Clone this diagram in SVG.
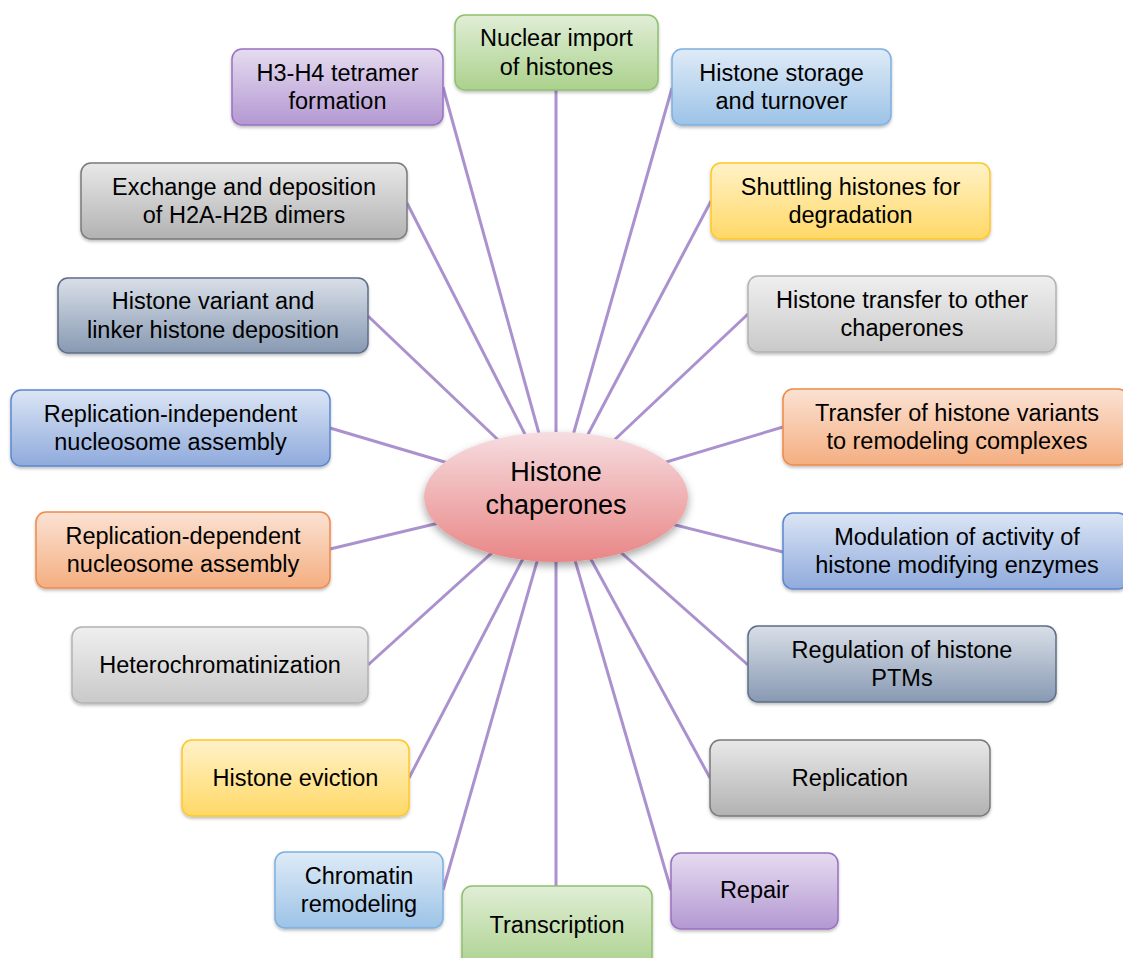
<svg xmlns="http://www.w3.org/2000/svg" width="1123" height="958" viewBox="0 0 1123 958">
<style>
.t{font-family:"Liberation Sans",Arial,sans-serif;font-size:23.5px;fill:#000;text-anchor:middle}
.c{font-family:"Liberation Sans",Arial,sans-serif;font-size:27px;fill:#000;text-anchor:middle}
.ln{stroke:#ab92cf;stroke-width:3;fill:none}
.b{stroke-width:1.5;filter:url(#sh)}
.purple{fill:url(#gPurple);stroke:#9a70c0}
.green{fill:url(#gGreen);stroke:#8fc06e}
.lblue{fill:url(#gLBlue);stroke:#7eb0de}
.yellow{fill:url(#gYellow);stroke:#ffc726}
.dgray{fill:url(#gDGray);stroke:#7a7a7a}
.lgray{fill:url(#gLGray);stroke:#b3b3b3}
.slate{fill:url(#gSlate);stroke:#5d6d87}
.blue{fill:url(#gBlue);stroke:#5b86cf}
.orange{fill:url(#gOrange);stroke:#f0894a}
</style>
<defs>
<filter id="sh" x="-10%" y="-10%" width="120%" height="130%"><feDropShadow dx="0" dy="2" stdDeviation="1.5" flood-color="#000" flood-opacity="0.25"/></filter>
<filter id="esh" x="-20%" y="-20%" width="140%" height="150%"><feDropShadow dx="0" dy="4" stdDeviation="4" flood-color="#000" flood-opacity="0.35"/></filter>
<linearGradient id="gPurple" x1="0" y1="0" x2="0" y2="1"><stop offset="0" stop-color="#e6dcf0"/><stop offset="1" stop-color="#b398d2"/></linearGradient>
<linearGradient id="gGreen" x1="0" y1="0" x2="0" y2="1"><stop offset="0" stop-color="#e0eed6"/><stop offset="1" stop-color="#abd18d"/></linearGradient>
<linearGradient id="gLBlue" x1="0" y1="0" x2="0" y2="1"><stop offset="0" stop-color="#dfebf7"/><stop offset="1" stop-color="#9cc3e7"/></linearGradient>
<linearGradient id="gYellow" x1="0" y1="0" x2="0" y2="1"><stop offset="0" stop-color="#fff2c8"/><stop offset="1" stop-color="#ffd866"/></linearGradient>
<linearGradient id="gDGray" x1="0" y1="0" x2="0" y2="1"><stop offset="0" stop-color="#e8e8e8"/><stop offset="1" stop-color="#b2b2b2"/></linearGradient>
<linearGradient id="gLGray" x1="0" y1="0" x2="0" y2="1"><stop offset="0" stop-color="#efefef"/><stop offset="1" stop-color="#c9c9c9"/></linearGradient>
<linearGradient id="gSlate" x1="0" y1="0" x2="0" y2="1"><stop offset="0" stop-color="#d9dfe8"/><stop offset="1" stop-color="#8799b2"/></linearGradient>
<linearGradient id="gBlue" x1="0" y1="0" x2="0" y2="1"><stop offset="0" stop-color="#dbe5f5"/><stop offset="1" stop-color="#8faadc"/></linearGradient>
<linearGradient id="gOrange" x1="0" y1="0" x2="0" y2="1"><stop offset="0" stop-color="#fbe2d3"/><stop offset="1" stop-color="#f4ae80"/></linearGradient>
<linearGradient id="gPink" x1="0" y1="0" x2="0" y2="1"><stop offset="0" stop-color="#f6dde0"/><stop offset="1" stop-color="#e98686"/></linearGradient>
</defs>
<rect width="1123" height="958" fill="#fff"/>
<g id="connectors">
<line class="ln" x1="443" y1="87" x2="556" y2="495"/>
<line class="ln" x1="556" y1="90" x2="556" y2="495"/>
<line class="ln" x1="672" y1="88" x2="556" y2="495"/>
<line class="ln" x1="407" y1="203" x2="556" y2="495"/>
<line class="ln" x1="368" y1="316" x2="556" y2="495"/>
<line class="ln" x1="330" y1="428" x2="556" y2="495"/>
<line class="ln" x1="330" y1="549" x2="556" y2="495"/>
<line class="ln" x1="368" y1="665" x2="556" y2="495"/>
<line class="ln" x1="409" y1="778" x2="556" y2="495"/>
<line class="ln" x1="443" y1="890" x2="556" y2="495"/>
<line class="ln" x1="556" y1="886" x2="556" y2="495"/>
<line class="ln" x1="671" y1="890" x2="556" y2="495"/>
<line class="ln" x1="710" y1="778" x2="556" y2="495"/>
<line class="ln" x1="748" y1="665" x2="556" y2="495"/>
<line class="ln" x1="783" y1="552" x2="556" y2="495"/>
<line class="ln" x1="783" y1="427" x2="556" y2="495"/>
<line class="ln" x1="748" y1="314" x2="556" y2="495"/>
<line class="ln" x1="711" y1="201" x2="556" y2="495"/>
</g>
<g id="center">
<ellipse cx="556" cy="497" rx="132" ry="65" fill="url(#gPink)" filter="url(#esh)"/>
<text class="c" x="556" y="481">Histone</text>
<text class="c" x="556" y="514">chaperones</text>
</g>
<g id="n-h3h4"><rect class="b purple" x="232" y="49" width="211" height="76" rx="10"/><text class="t" x="337.5" y="80.5">H3-H4 tetramer</text><text class="t" x="337.5" y="109">formation</text></g>
<g id="n-import"><rect class="b green" x="455" y="15" width="203" height="75" rx="10"/><text class="t" x="556.5" y="46">Nuclear import</text><text class="t" x="556.5" y="74.5">of histones</text></g>
<g id="n-storage"><rect class="b lblue" x="672" y="49" width="219" height="76" rx="10"/><text class="t" x="781.5" y="80.5">Histone storage</text><text class="t" x="781.5" y="109">and turnover</text></g>
<g id="n-exchange"><rect class="b dgray" x="81" y="163" width="326" height="76" rx="10"/><text class="t" x="244" y="194.5">Exchange and deposition</text><text class="t" x="244" y="223">of H2A-H2B dimers</text></g>
<g id="n-variant"><rect class="b slate" x="58" y="278" width="310" height="75" rx="10"/><text class="t" x="213" y="309">Histone variant and</text><text class="t" x="213" y="337.5">linker histone deposition</text></g>
<g id="n-repind"><rect class="b blue" x="11" y="390" width="319" height="76" rx="10"/><text class="t" x="170.5" y="421.5">Replication-independent</text><text class="t" x="170.5" y="450">nucleosome assembly</text></g>
<g id="n-repdep"><rect class="b orange" x="36" y="512" width="294" height="76" rx="10"/><text class="t" x="183" y="543.5">Replication-dependent</text><text class="t" x="183" y="572">nucleosome assembly</text></g>
<g id="n-hetero"><rect class="b lgray" x="72" y="627" width="296" height="76" rx="10"/><text class="t" x="220" y="673">Heterochromatinization</text></g>
<g id="n-eviction"><rect class="b yellow" x="182" y="740" width="227" height="76" rx="10"/><text class="t" x="295.5" y="786">Histone eviction</text></g>
<g id="n-chromatin"><rect class="b lblue" x="275" y="852" width="168" height="76" rx="10"/><text class="t" x="359" y="883.5">Chromatin</text><text class="t" x="359" y="912">remodeling</text></g>
<g id="n-transcription"><rect class="b green" x="462" y="886" width="190" height="84" rx="10"/><text class="t" x="557" y="933">Transcription</text></g>
<g id="n-repair"><rect class="b purple" x="671" y="853" width="167" height="76" rx="10"/><text class="t" x="754.5" y="898">Repair</text></g>
<g id="n-replication"><rect class="b dgray" x="710" y="740" width="280" height="76" rx="10"/><text class="t" x="850" y="786">Replication</text></g>
<g id="n-ptm"><rect class="b slate" x="748" y="626" width="308" height="76" rx="10"/><text class="t" x="902" y="657.5">Regulation of histone</text><text class="t" x="902" y="686">PTMs</text></g>
<g id="n-modulation"><rect class="b blue" x="783" y="513" width="345" height="76" rx="10"/><text class="t" x="957" y="544.5">Modulation of activity of</text><text class="t" x="957" y="573">histone modifying enzymes</text></g>
<g id="n-variants"><rect class="b orange" x="783" y="389" width="345" height="76" rx="10"/><text class="t" x="957" y="420.5">Transfer of histone variants</text><text class="t" x="957" y="449">to remodeling complexes</text></g>
<g id="n-transfer"><rect class="b lgray" x="748" y="276" width="308" height="76" rx="10"/><text class="t" x="902" y="307.5">Histone transfer to other</text><text class="t" x="902" y="336">chaperones</text></g>
<g id="n-shuttling"><rect class="b yellow" x="711" y="163" width="279" height="76" rx="10"/><text class="t" x="850.5" y="194.5">Shuttling histones for</text><text class="t" x="850.5" y="223">degradation</text></g>
</svg>
